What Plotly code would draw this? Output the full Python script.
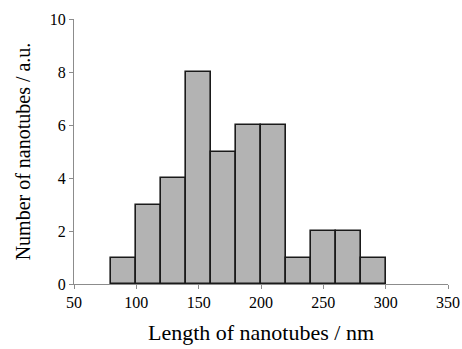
import plotly.graph_objects as go

bin_left = [80, 100, 120, 140, 160, 180, 200, 220, 240, 260, 280]
counts = [1, 3, 4, 8, 5, 6, 6, 1, 2, 2, 1]
bin_width = 20
x_ticks = [50, 100, 150, 200, 250, 300, 350]
y_ticks = [0, 2, 4, 6, 8, 10]

centers = [b + bin_width / 2 for b in bin_left]

fig = go.Figure(go.Bar(
    x=centers, y=counts, width=[bin_width] * len(counts),
    marker=dict(color="#b3b3b3", line=dict(color="#1a1a1a", width=1.6)),
))

font = "Liberation Serif, Times New Roman, serif"
fig.update_layout(
    width=462, height=349,
    margin=dict(l=74, r=14, t=19, b=65),
    plot_bgcolor="white", paper_bgcolor="white",
    showlegend=False,
    font=dict(family=font, color="black", size=13),
    bargap=0,
)
fig.update_xaxes(
    range=[50, 350], tickvals=x_ticks, showgrid=False, zeroline=False,
    showline=True, linecolor="#8c8c8c", linewidth=1, automargin=False,
    ticks="outside", ticklen=4, tickcolor="#8c8c8c",
    tickfont=dict(size=16, family=font),
    title=dict(text="Length of nanotubes / nm", font=dict(size=22, family=font), standoff=14),
)
fig.update_yaxes(
    range=[0, 10], tickvals=y_ticks, showgrid=False, zeroline=False,
    showline=True, linecolor="#8c8c8c", linewidth=1, automargin=False,
    ticks="outside", ticklen=4, tickcolor="#8c8c8c",
    tickfont=dict(size=16, family=font),
    title=dict(text="Number of nanotubes / a.u.", font=dict(size=20, family=font), standoff=13),
)
fig.write_html("out.html")
